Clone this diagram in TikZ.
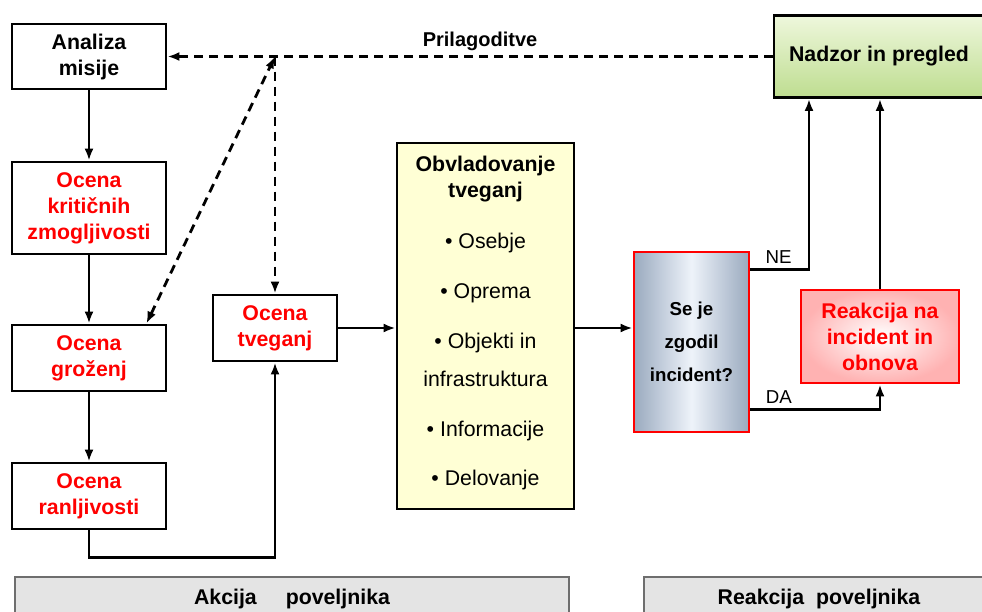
\documentclass[tikz,border=0pt]{standalone}
\usepackage{fontspec}
\setmainfont{Liberation Sans}
\usetikzlibrary{arrows.meta}
\definecolor{obvyellow}{HTML}{FFFFD5}
\definecolor{nadzortop}{HTML}{EEF7DC}
\definecolor{nadzorbot}{HTML}{BEDD90}
\definecolor{steelside}{HTML}{9AAABF}
\definecolor{steelmid}{HTML}{EEF3FA}
\definecolor{bargray}{HTML}{E4E4E4}
\definecolor{barline}{HTML}{6E6E6E}
\begin{document}
\begin{tikzpicture}[x=1pt, y=-1pt,
    box/.style={rectangle, draw, line width=2.8pt, align=center, inner sep=0pt, font=\fontsize{21.3}{26}\selectfont\bfseries},
    ocena/.style={box, text=red},
    arrow/.style={->, >={Latex[length=12pt,width=9pt]}, line width=2.8pt},
    dasharrow/.style={arrow, dash pattern=on 9pt off 6pt},
    bar/.style={rectangle, draw=barline, fill=bargray, line width=1.5pt, minimum height=44pt, font=\fontsize{21.3}{26}\selectfont\bfseries},
    branch/.style={font=\fontsize{18.7}{22}\selectfont}
  ]
  \clip (0,0) rectangle (982,611);

  % left column
  \node[box, minimum width=154pt, minimum height=65pt] (analiza) at (89,56.5) {Analiza\\misije};
  \node[ocena, minimum width=154pt, minimum height=92pt] (kriticne) at (89,208) {Ocena\\kritičnih\\zmogljivosti};
  \node[ocena, minimum width=154pt, minimum height=66pt] (grozenj) at (89,358) {Ocena\\groženj};
  \node[ocena, minimum width=154pt, minimum height=66pt] (ranljivost) at (89,496) {Ocena\\ranljivosti};
  \node[ocena, minimum width=124pt, minimum height=66pt] (tveganj) at (275,328) {Ocena\\tveganj};

  % middle and right
  \node[box, fill=obvyellow, minimum width=177pt, minimum height=366pt] (obv) at (485.5,326) {};
  \node[align=center, anchor=north, inner sep=0pt, font=\fontsize{21.3}{26}\selectfont] (obvtext) at (485.5,156)
    {\textbf{Obvladovanje}\\\textbf{tveganj}\\[25pt]
     • Osebje\\[24pt]
     • Oprema\\[24pt]
     • Objekti in\\[12pt]
     infrastruktura\\[24pt]
     • Informacije\\[23pt]
     • Delovanje};
  \node[box, draw=red, left color=steelside, right color=steelside, middle color=steelmid,
        minimum width=115pt, minimum height=180pt, font=\fontsize{18.7}{33}\selectfont\bfseries] (incident) at (691.5,342)
    {Se je\\zgodil\\incident?};
  \node[box, top color=nadzortop, bottom color=nadzorbot, minimum width=210pt, minimum height=82pt] (nadzor) at (879,56.5)
    {Nadzor in pregled};
  \node[ocena, draw=red, inner color=white, outer color=red!30, minimum width=158pt, minimum height=93pt] (reakcija) at (880,336.5)
    {Reakcija na\\incident in\\obnova};

  % bottom bars
  \node[bar, minimum width=554pt] (akcijabar) at (292,599) {Akcija\hspace{29pt}poveljnika};
  \node[bar, minimum width=350pt] (reakcijabar) at (819,599) {Reakcija\hspace{12pt}poveljnika};

  % adjustments loop
  \coordinate (junction) at (275,56.5);
  \node[font=\fontsize{20}{24}\selectfont\bfseries] (prilag) at (480,41) {Prilagoditve};
  \draw[dasharrow] (nadzor.west) -- (analiza.east);
  \draw[dasharrow] (junction) -- (tveganj.north);
  \draw[dasharrow, <->] ([xshift=-21pt]grozenj.north east) -- (junction);

  % solid flow
  \draw[arrow] (analiza.south) -- (kriticne.north);
  \draw[arrow] (kriticne.south) -- (grozenj.north);
  \draw[arrow] (grozenj.south) -- (ranljivost.north);
  \draw[arrow] (ranljivost.south) -- ++(0,27) -| (tveganj.south);
  \draw[arrow] (tveganj.east) -- (tveganj.east -| obv.west);
  \draw[arrow] (obv.east |- tveganj.east) -- (incident.west |- tveganj.east);
  \draw[arrow] ([yshift=-19pt]incident.north east) -| node[branch, pos=0.24, above=1pt] (ne) {NE} (809,0 |- nadzor.south);
  \draw[arrow] ([yshift=24pt]incident.south east) -| node[branch, pos=0.11, above=1pt] (da) {DA} (reakcija.south);
  \draw[arrow] (reakcija.north) -- (reakcija.north |- nadzor.south);
\end{tikzpicture}
\end{document}
